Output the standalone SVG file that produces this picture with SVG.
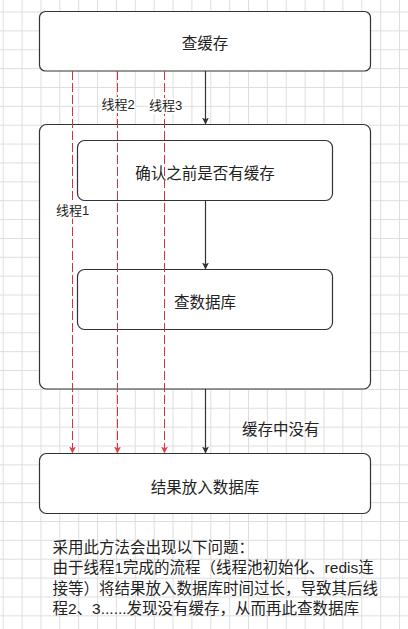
<svg xmlns="http://www.w3.org/2000/svg" width="408" height="629" viewBox="0 0 408 629">
<style>
.box{fill:#fff;stroke:#333;stroke-width:1.2}
.t{font-family:"Liberation Sans","Noto Sans CJK SC",sans-serif;fill:#222}
.c{font-size:15.5px;text-anchor:middle}
.lbl{font-size:13px}
.p{font-size:15.5px}
.bg{fill:#fff}
.blk{stroke:#333;stroke-width:1.2;fill:none}
.red{stroke:#c8373f;stroke-width:1;fill:none;stroke-dasharray:9 3}
</style>
<defs>
<pattern id="grid" x="2.7" y="11.5" width="18.87" height="18.87" patternUnits="userSpaceOnUse">
<path d="M0.5 0V18.87M0 0.5H18.87" stroke="#dedede" stroke-width="1" fill="none"/>
</pattern>
<marker id="ab" viewBox="0 0 10 10" refX="10" refY="5" markerWidth="7" markerHeight="7" markerUnits="userSpaceOnUse" orient="auto"><path d="M0 0L10 5L0 10L2.5 5Z" fill="#333"/></marker>
<marker id="ar" viewBox="0 0 10 10" refX="10" refY="5" markerWidth="7" markerHeight="7" markerUnits="userSpaceOnUse" orient="auto"><path d="M0 0L10 5L0 10L2.5 5Z" fill="#e04444"/></marker>
</defs>
<rect width="408" height="629" fill="#fff"/>
<rect width="408" height="629" fill="url(#grid)"/>
<g id="n-cache">
<rect class="box" x="39.5" y="11.5" width="331" height="59.5" rx="6"/>
<text class="t c" x="205" y="49">查缓存</text>
</g>
<g id="n-outer">
<rect class="box" x="39.5" y="124.5" width="331" height="264.5" rx="7"/>
</g>
<g id="n-confirm">
<rect class="box" x="77.5" y="140.5" width="255" height="60" rx="7"/>
<text class="t c" x="205" y="179">确认之前是否有缓存</text>
</g>
<g id="n-query">
<rect class="box" x="77.5" y="269.5" width="255" height="60" rx="7"/>
<text class="t c" x="205" y="307.5">查数据库</text>
</g>
<g id="n-result">
<rect class="box" x="39.5" y="453.5" width="331" height="60" rx="7"/>
<text class="t c" x="205" y="492.5">结果放入数据库</text>
</g>
<g id="connectors">
<line class="blk" x1="205.5" y1="71" x2="205.5" y2="124.5" marker-end="url(#ab)"/>
<line class="blk" x1="205.5" y1="200.5" x2="205.5" y2="269.5" marker-end="url(#ab)"/>
<line class="blk" x1="205.5" y1="389" x2="205.5" y2="453.5" marker-end="url(#ab)"/>
<line class="red" x1="72.5" y1="71" x2="72.5" y2="453.5" marker-end="url(#ar)"/>
<line class="red" x1="117.5" y1="71" x2="117.5" y2="453.5" marker-end="url(#ar)"/>
<line class="red" x1="164.5" y1="71" x2="164.5" y2="453.5" marker-end="url(#ar)"/>
</g>
<g id="labels">
<rect class="bg" x="101" y="97" width="34" height="16"/>
<text class="t lbl" x="101.5" y="109">线程2</text>
<rect class="bg" x="148.5" y="98" width="34" height="16"/>
<text class="t lbl" x="149" y="110">线程3</text>
<rect class="bg" x="55.5" y="202.5" width="34" height="16"/>
<text class="t lbl" x="56" y="214.5">线程1</text>
<text class="t p" x="242" y="435">缓存中没有</text>
</g>
<g id="note">
<text class="t p" x="52.5" y="552.5">采用此方法会出现以下问题：</text>
<text class="t p" x="52.5" y="573">由于线程1完成的流程（线程池初始化、redis连</text>
<text class="t p" x="52.5" y="594">接等）将结果放入数据库时间过长，导致其后线</text>
<text class="t p" x="52.5" y="614">程2、3......发现没有缓存，从而再此查数据库</text>
</g>
</svg>
